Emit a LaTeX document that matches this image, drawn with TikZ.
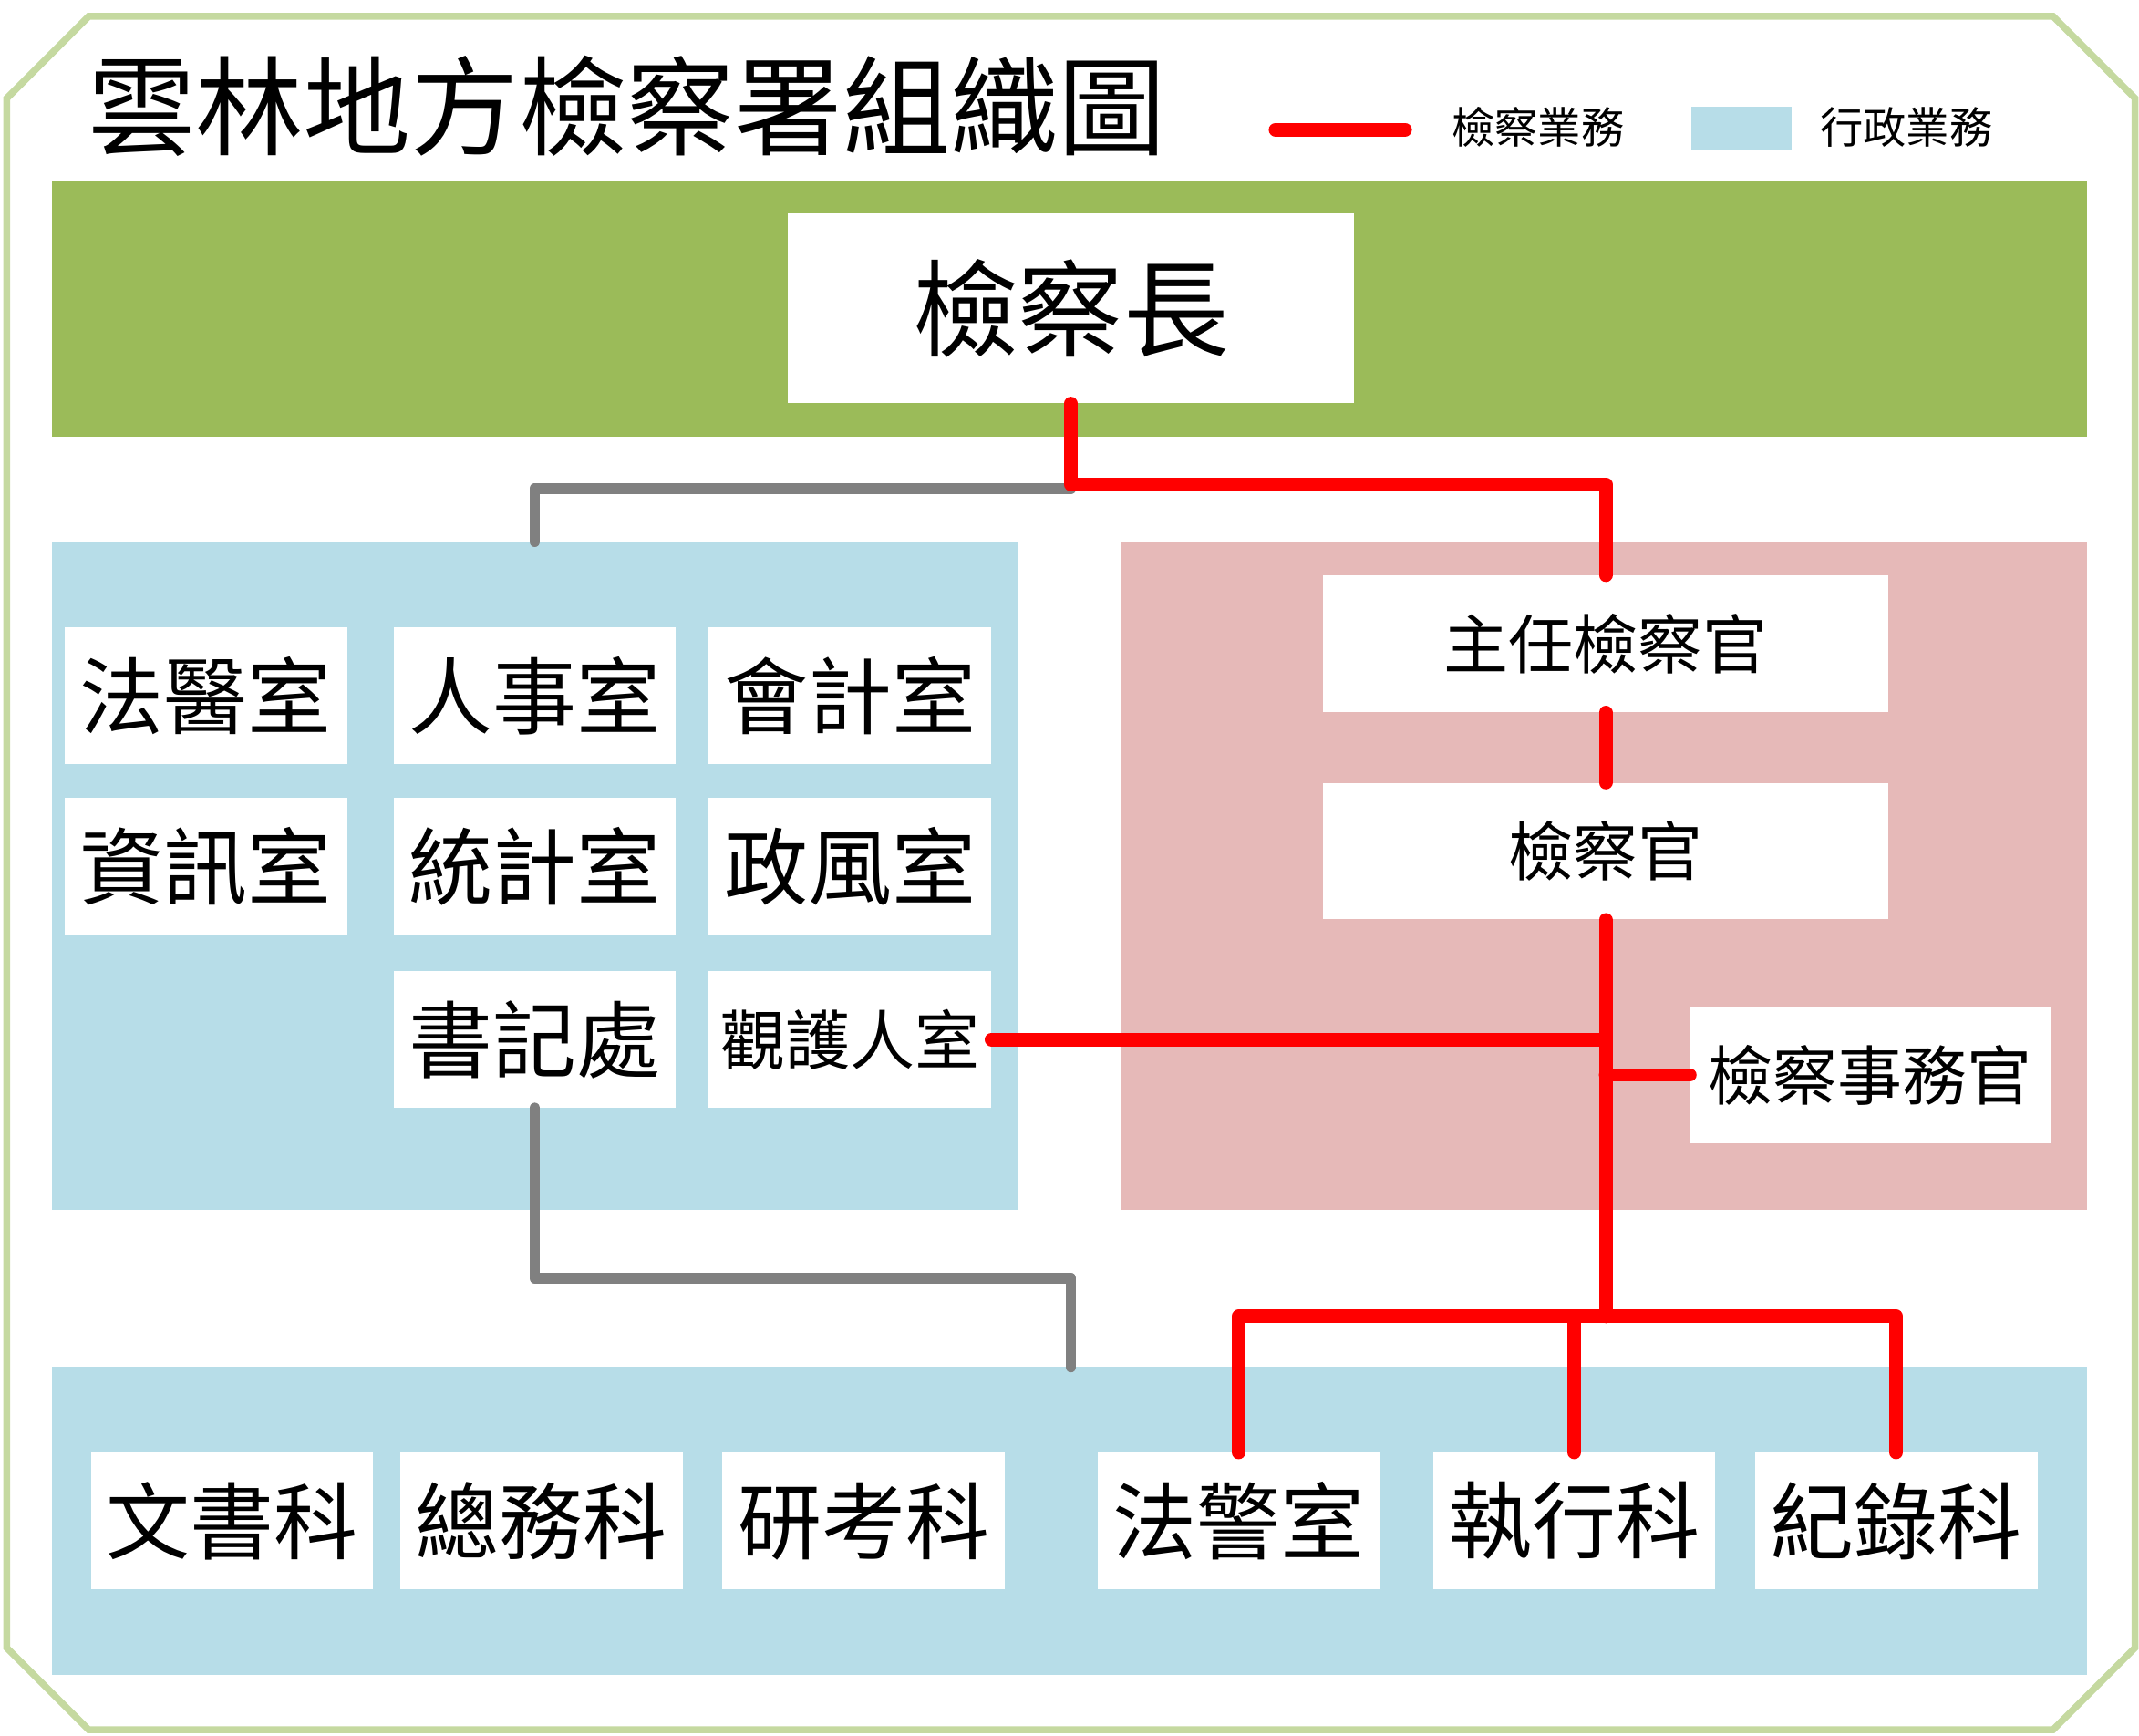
\documentclass[tikz,border=0pt]{standalone}
\usepackage{fontspec}
\setmainfont{Noto Sans CJK TC}
\usetikzlibrary{positioning}
\definecolor{bandgreen}{HTML}{9BBB59}
\definecolor{frame}{HTML}{C5D9A0}
\definecolor{admin}{HTML}{B7DDE8}
\definecolor{prosec}{HTML}{E6B9B8}
\definecolor{linkred}{HTML}{FF0000}
\definecolor{linkgray}{HTML}{808080}
\tikzset{
  unit/.style={fill=white, inner sep=0pt, font=\fontsize{35}{35}\selectfont,
    minimum width=4.14cm, minimum height=2cm},
  wide/.style={unit, minimum width=8.3cm, font=\fontsize{27}{27}\selectfont},
  red line/.style={draw=linkred, line width=0.2cm, line cap=round, line join=round},
  gray line/.style={draw=linkgray, line width=0.16cm, line cap=round, line join=round},
}
\begin{document}
\begin{tikzpicture}[x=0.02cm, y=-0.02cm]
      \useasboundingbox (0,0) rectangle (1568,1272);
      % outer frame
      \draw [frame, line width=0.1cm] (65,12) -- (1505,12) -- (1565,72) -- (1565,1208)
        -- (1505,1268) -- (65,1268) -- (5,1208) -- (5,72) -- cycle;
      % title and legend
      \node [anchor=west, font=\fontsize{45}{45}\selectfont] (title) at (58,78) {雲林地方檢察署組織圖};
      \coordinate (legA) at (935,95);
      \coordinate (legB) at (1030,95);
      \draw [red line] (legA) -- (legB);
      \node [anchor=west, font=\fontsize{18}{18}\selectfont] (legprosec) at (1058,93) {檢察業務};
      \fill [admin] (1240,78) rectangle (1313,110);
      \node [anchor=west, font=\fontsize{18}{18}\selectfont] (legadmin) at (1328,93) {行政業務};
      % regions
      \fill [bandgreen] (38,132) rectangle (1530,320);
      \fill [admin] (38,397) rectangle (746,887);
      \fill [prosec] (822,397) rectangle (1530,887);
      \fill [admin] (38,1002) rectangle (1530,1228);
      \coordinate (admtop) at (392,397);
      \coordinate (lowtop) at (785,1002);
      % chief
      \node [unit, minimum width=8.3cm, minimum height=2.78cm, font=\fontsize{44}{44}\selectfont] (chief) at (785,226) {檢察長};
      % administrative offices
      \node [unit] (forensic) at (151,510) {法醫室};
      \node [unit] (personnel) at (392,510) {人事室};
      \node [unit] (account) at (623,510) {會計室};
      \node [unit] (info) at (151,635) {資訊室};
      \node [unit] (stats) at (392,635) {統計室};
      \node [unit] (ethics) at (623,635) {政風室};
      \node [unit] (clerk) at (392,762) {書記處};
      \node [unit, font=\fontsize{27}{27}\selectfont] (probation) at (623,762) {觀護人室};
      % prosecutors
      \node [wide] (headpros) at (1177,472) {主任檢察官};
      \node [wide] (pros) at (1177,624) {檢察官};
      \node [wide, minimum width=5.28cm] (investig) at (1371,788) {檢察事務官};
      % sections
      \node [unit] (docs) at (170,1115) {文書科};
      \node [unit] (general) at (397,1115) {總務科};
      \node [unit] (research) at (633,1115) {研考科};
      \node [unit] (police) at (908,1115) {法警室};
      \node [unit] (exec) at (1154,1115) {執行科};
      \node [unit] (record) at (1390,1115) {紀錄科};
      % connectors
      \draw [gray line] (785,358) -| (admtop);
      \draw [red line] (chief.south) -- (785,355) -| (headpros.north);
      \draw [red line] (headpros.south) -- (pros.north);
      \draw [red line] (pros.south) -- (1177,965);
      \draw [red line] (police.north) |- (1390,965) -- (record.north);
      \draw [red line] (exec.north) -- (1154,965);
      \draw [red line] (probation.east) -- (1172,762);
      \draw [red line] (1177,788) -- (investig.west);
      \draw [gray line] (clerk.south) |- (785,937) -- (lowtop);
\end{tikzpicture}
\end{document}
